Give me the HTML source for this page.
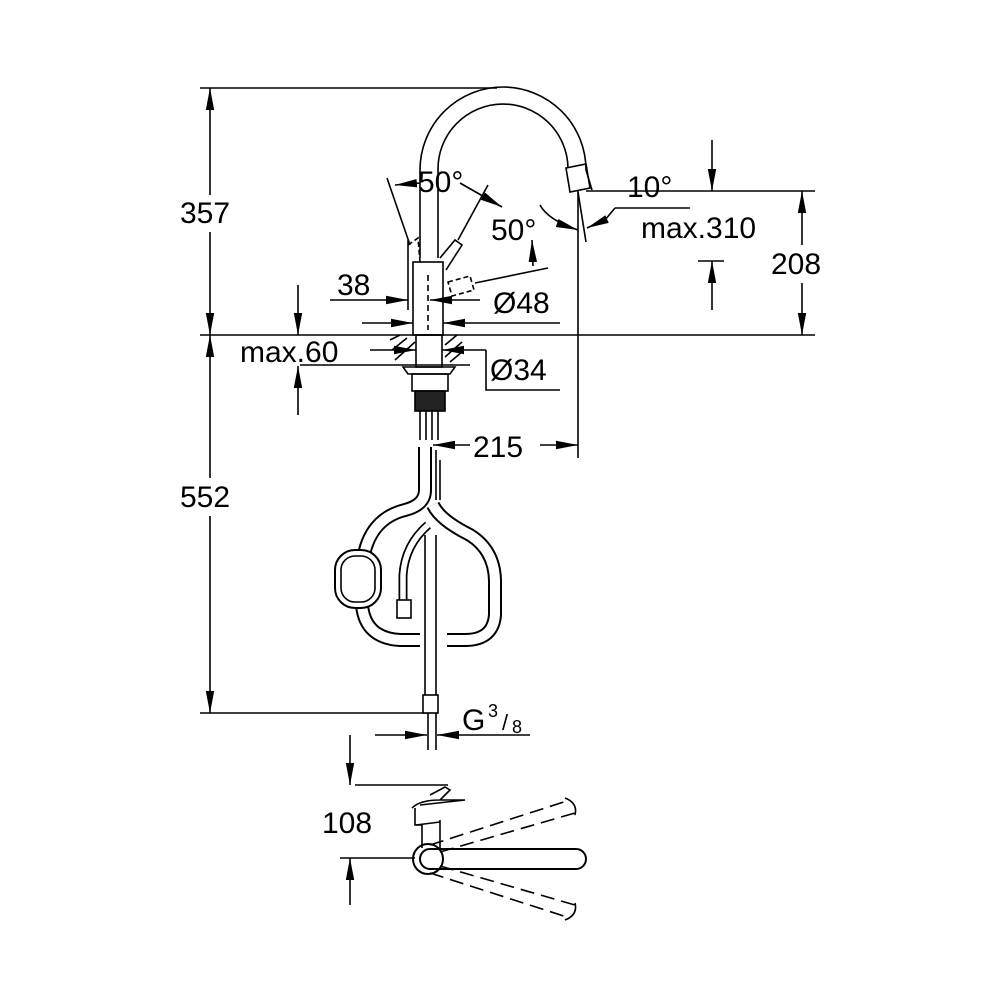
<!DOCTYPE html>
<html><head><style>
html,body{margin:0;padding:0;background:#fff;}
svg{display:block;}
text{font-family:"Liberation Sans",Arial,sans-serif;font-size:30px;fill:#000;}
</style></head><body>
<svg width="1000" height="1000" viewBox="0 0 1000 1000" xmlns="http://www.w3.org/2000/svg">
<defs>
<marker id="a" viewBox="0 0 10 10" refX="10" refY="5" markerWidth="14" markerHeight="10" markerUnits="userSpaceOnUse" orient="auto-start-reverse"><path d="M0,1.5 L10,5 L0,8.5z" fill="#000"/></marker>
<marker id="b" viewBox="0 0 10 10" refX="10" refY="5" markerWidth="22" markerHeight="12" markerUnits="userSpaceOnUse" orient="auto-start-reverse" preserveAspectRatio="none"><path d="M0,1.5 L10,5 L0,8.5z" fill="#000"/></marker>
</defs>
<g stroke="#000" stroke-width="1.6" fill="none">
<!-- extension lines -->
<line x1="200" y1="88" x2="497" y2="88"/>
<line x1="200" y1="335" x2="815" y2="335"/>
<line x1="200" y1="713" x2="430" y2="713"/>
<line x1="586" y1="191" x2="815" y2="191"/>
<!-- 357 / 552 -->
<line x1="210" y1="88" x2="210" y2="195" marker-start="url(#b)"/>
<line x1="210" y1="232" x2="210" y2="335" marker-end="url(#b)"/>
<line x1="210" y1="335" x2="210" y2="478" marker-start="url(#b)"/>
<line x1="210" y1="516" x2="210" y2="713" marker-end="url(#b)"/>
<!-- 208 -->
<line x1="802" y1="191" x2="802" y2="245" marker-start="url(#b)"/>
<line x1="802" y1="283" x2="802" y2="335" marker-end="url(#b)"/>
<!-- 10° / 310 -->
<line x1="712" y1="140" x2="712" y2="191" marker-end="url(#b)"/>
<line x1="712" y1="310" x2="712" y2="261" marker-end="url(#b)"/>
<line x1="698" y1="261" x2="724" y2="261"/>
<line x1="690" y1="208" x2="615" y2="208"/>
<path d="M615,208 L605,220 L587,228" marker-end="url(#b)"/>
<path d="M540,205 Q548,220 578,230" marker-end="url(#b)"/>
<line x1="578" y1="190" x2="578" y2="458"/>
<line x1="578" y1="192" x2="586" y2="242"/>
<!-- 215 -->
<line x1="470" y1="445" x2="433" y2="445" marker-end="url(#b)"/>
<line x1="540" y1="445" x2="578" y2="445" marker-end="url(#b)"/>
<!-- spout -->
<path d="M420,258 L420,170 A83,83 0 0 1 586,170 L592,190"/>
<path d="M438,258 L438,170 A65,65 0 0 1 568,168"/>
<path d="M566,168 L586,164 L590,188 L570,192 Z"/>
<!-- body -->
<rect x="413" y="262" width="30" height="73"/>
<line x1="428" y1="275" x2="428" y2="330" stroke-dasharray="6,4"/>
<!-- levers -->
<path d="M440,258 L455,240 L462,245 L446,270"/>
<path d="M408,245 L418,238 L420,262" stroke-dasharray="5,3"/>
<path d="M448,282 L470,276 L474,290 L452,296Z" stroke-dasharray="5,3"/>
<line x1="475" y1="283" x2="548" y2="268"/>
<line x1="387" y1="178" x2="410" y2="245"/>
<line x1="488" y1="185" x2="458" y2="240"/>
<line x1="395" y1="185" x2="420" y2="183" marker-start="url(#b)"/>
<line x1="460" y1="183" x2="502" y2="207" marker-end="url(#b)"/>
<line x1="532" y1="240" x2="533" y2="266" marker-start="url(#b)"/>
<!-- 38, 48 -->
<line x1="408" y1="240" x2="408" y2="310"/>
<line x1="330" y1="300" x2="408" y2="300" marker-end="url(#b)"/>
<line x1="480" y1="300" x2="430" y2="300" marker-end="url(#b)"/>
<line x1="362" y1="323" x2="413" y2="323" marker-end="url(#b)"/>
<line x1="560" y1="323" x2="443" y2="323" marker-end="url(#b)"/>
<!-- below deck -->
<rect x="416" y="335" width="26" height="32"/>
<path d="M390,340 l10,-5 M392,350 l15,-12 M395,360 l20,-18 M445,345 l12,-10 M445,357 l17,-15 M450,362 l12,-10"/>
<line x1="370" y1="350" x2="416" y2="350" marker-end="url(#b)"/>
<line x1="486" y1="350" x2="442" y2="350" marker-end="url(#b)"/>
<path d="M486,350 L486,390 L560,390"/>
<line x1="300" y1="365" x2="470" y2="365"/>
<path d="M403,367 L455,367 L450,374 L408,374Z"/>
<rect x="412" y="374" width="36" height="17"/>
<rect x="415" y="391" width="30" height="20" fill="#222"/>
<!-- max.60 -->
<line x1="298" y1="285" x2="298" y2="335" marker-end="url(#b)"/>
<line x1="298" y1="415" x2="298" y2="366" marker-end="url(#b)"/>
<!-- hoses -->
<path d="M420,411 L420,440 M426,411 L426,440 M432,411 L432,440 M438,411 L438,440"/>
</g>
<g fill="none" stroke-linecap="butt">
<path id="h1" d="M425,447 L425,490 Q425,505 405,510 Q365,520 362,570 L362,605 Q365,638 400,640 L420,640"/>
<path id="h2" d="M433,505 Q440,520 470,535 Q494,550 495,580 L495,615 Q493,640 465,640 L447,640"/>
<path id="h3" d="M428,525 Q405,545 403,575 L403,603"/>
<use href="#h1" stroke="#000" stroke-width="14"/>
<use href="#h1" stroke="#fff" stroke-width="10"/>
<use href="#h2" stroke="#000" stroke-width="14"/>
<use href="#h2" stroke="#fff" stroke-width="10"/>
<use href="#h3" stroke="#000" stroke-width="9"/>
<use href="#h3" stroke="#fff" stroke-width="5.5"/>
</g>
<g stroke="#000" stroke-width="1.6" fill="none">
<path d="M436,450 L436,500 M440,460 L440,500"/>
<path d="M425,535 L425,705 M436,535 L436,705"/>
<rect x="397" y="600" width="14" height="18" fill="#fff"/>
<rect x="335" y="550" width="46" height="58" rx="20" fill="#fff" stroke-width="2"/>
<rect x="341" y="556" width="34" height="46" rx="14"/>
<rect x="423" y="695" width="15" height="18" fill="#fff"/>
<line x1="428" y1="713" x2="428" y2="750"/>
<line x1="436" y1="713" x2="436" y2="750"/>
<line x1="375" y1="735" x2="427" y2="735" marker-end="url(#b)"/>
<line x1="530" y1="735" x2="437" y2="735" marker-end="url(#b)"/>
<!-- top view -->
<line x1="355" y1="785" x2="448" y2="785"/>
<line x1="340" y1="858" x2="415" y2="858"/>
<line x1="350" y1="735" x2="350" y2="785" marker-end="url(#b)"/>
<line x1="350" y1="905" x2="350" y2="858" marker-end="url(#b)"/>
<path d="M415,808 L415,825 L422,825 L422,848 M440,820 L440,848"/>
<path d="M412,808 Q420,800 440,800 L465,800 L420,805 M430,795 L445,787 L450,790 L440,800"/>
<path d="M416,825 L440,822"/>
<rect x="420" y="849" width="166" height="20" rx="10" stroke-width="2"/>
<circle cx="428" cy="859" r="15" stroke-width="2"/>
<path d="M430,845 L570,800 M440,852 L575,813 M440,866 L575,905 M430,873 L570,918" stroke-dasharray="14,7"/>
<path d="M565,798 Q578,803 575,815 M565,920 Q578,915 575,903"/>
</g>
<text x="180" y="223">357</text>
<text x="180" y="507">552</text>
<text x="771" y="274">208</text>
<text x="627" y="197">10°</text>
<text x="641" y="238">max.310</text>
<text x="418" y="192">50°</text>
<text x="491" y="240">50°</text>
<text x="337" y="295">38</text>
<text x="493" y="313">Ø48</text>
<text x="240" y="362">max.60</text>
<text x="490" y="380">Ø34</text>
<text x="473" y="457">215</text>
<text x="462" y="730">G</text>
<text x="488" y="717" style="font-size:18px">3</text>
<text x="502" y="730" style="font-size:22px">/</text>
<text x="512" y="733" style="font-size:18px">8</text>
<text x="322" y="833">108</text>
</svg>
</body></html>
